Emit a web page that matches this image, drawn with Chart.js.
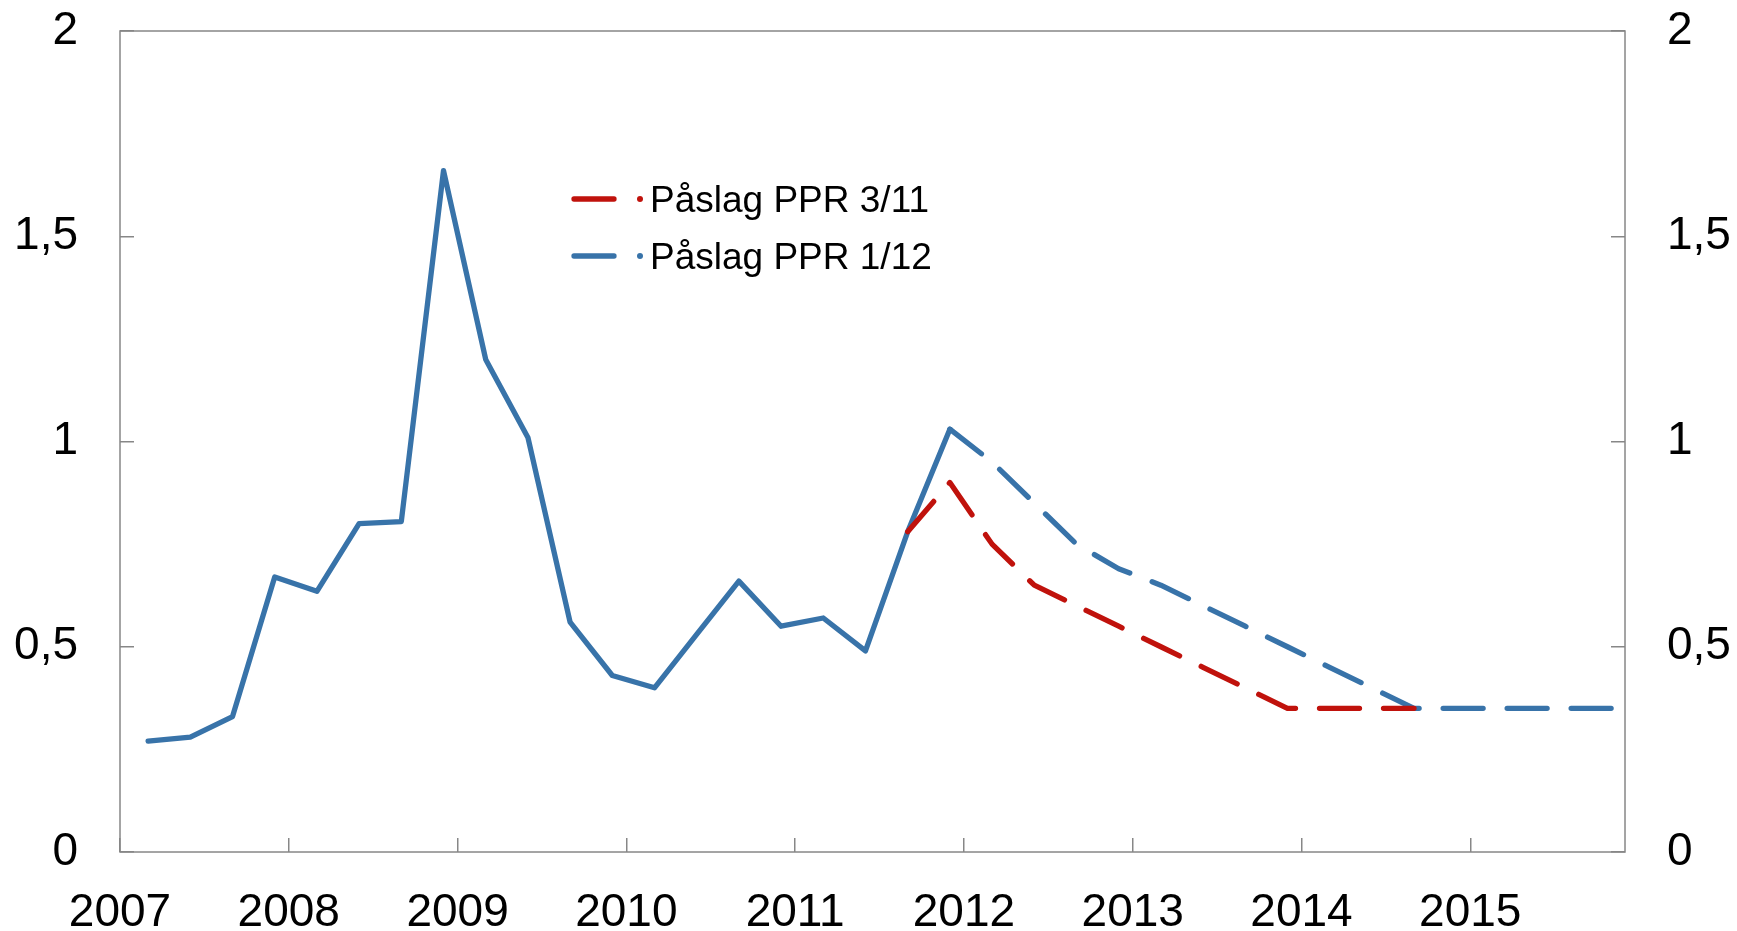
<!DOCTYPE html>
<html>
<head>
<meta charset="utf-8">
<script src="https://cdn.jsdelivr.net/npm/chart.js@4.4.1/dist/chart.umd.min.js"></script>
<style>
  html, body { margin: 0; padding: 0; background: #fff; }
  #wrap { width: 1737px; height: 931px; }
</style>
</head>
<body>
<div id="wrap"><canvas id="chart" width="1737" height="931"></canvas></div>
<script>
// kvartaler, plottet ved siste måned i kvartalet
const quarters = [
  '2007K1', '2007K2', '2007K3', '2007K4',
  '2008K1', '2008K2', '2008K3', '2008K4',
  '2009K1', '2009K2', '2009K3', '2009K4',
  '2010K1', '2010K2', '2010K3', '2010K4',
  '2011K1', '2011K2', '2011K3', '2011K4',
  '2012K1', '2012K2', '2012K3', '2012K4',
  '2013K1', '2013K2', '2013K3', '2013K4',
  '2014K1', '2014K2', '2014K3', '2014K4',
  '2015K1', '2015K2', '2015K3', '2015K4'
];

// Påslag PPR 1/12 (historikk + anslag fra 2011K4)
const ppr112 = [
  0.27, 0.28, 0.33, 0.67,
  0.635, 0.80, 0.805, 1.66,
  1.20, 1.01, 0.56, 0.43,
  0.40, 0.53, 0.66, 0.55,
  0.57, 0.49, 0.78, 1.03,
  0.95, 0.85, 0.75, 0.69,
  0.65, 0.60, 0.55, 0.50,
  0.45, 0.40, 0.35, 0.35,
  0.35, 0.35, 0.35, 0.35
];
const ppr112ForecastFrom = '2011K4';

// Påslag PPR 3/11 (anslag)
const ppr311Quarters = [
  '2011K3', '2011K4',
  '2012K1', '2012K2', '2012K3', '2012K4',
  '2013K1', '2013K2', '2013K3', '2013K4',
  '2014K1', '2014K2', '2014K3'
];
const ppr311 = [
  0.78, 0.90,
  0.75, 0.65, 0.60, 0.55,
  0.50, 0.45, 0.40, 0.35,
  0.35, 0.35, 0.35
];

const yTicks = [0, 0.5, 1, 1.5, 2];
const seriesNames = ['Påslag PPR 3/11', 'Påslag PPR 1/12'];

const RED = '#C0120C';
const BLUE = '#3873A9';
const AXIS = '#878787';
const DASH = [40, 24];
const LW = 5.3;

function toX(q) {
  const year = Number(q.slice(0, 4));
  const k = Number(q.slice(5));
  return year + (3 * k - 1) / 12;
}

const forecastIdx = quarters.indexOf(ppr112ForecastFrom);

const tickFont = { family: '"Liberation Sans", Arial, sans-serif', size: 46 };

// y-aksene skal ikke reservere plass over/under plottet
function fixY(width) {
  return s => {
    s.width = width;
    s.paddingTop = 0;
    s.paddingBottom = 0;
  };
}

const frameAndLegend = {
  id: 'frameAndLegend',
  afterDraw(chart) {
    const ctx = chart.ctx;
    const a = chart.chartArea;
    ctx.save();
    ctx.strokeStyle = AXIS;
    ctx.lineWidth = 1.5;
    ctx.strokeRect(a.left, a.top, a.right - a.left, a.bottom - a.top);

    // legend inne i plottet
    const colors = [RED, BLUE];
    const lx = a.left + 452;
    const rows = [a.top + 181, a.top + 238];
    ctx.font = '37px "Liberation Sans", Arial, sans-serif';
    ctx.textBaseline = 'alphabetic';
    ctx.textAlign = 'left';
    seriesNames.forEach((name, i) => {
      const y = rows[i] - 13;
      ctx.strokeStyle = colors[i];
      ctx.fillStyle = colors[i];
      ctx.lineWidth = LW;
      ctx.lineCap = 'round';
      ctx.beginPath();
      ctx.moveTo(lx + 2, y);
      ctx.lineTo(lx + 42, y);
      ctx.stroke();
      ctx.beginPath();
      ctx.arc(lx + 68, y, 3, 0, Math.PI * 2);
      ctx.fill();
      ctx.fillStyle = '#000';
      ctx.fillText(name, lx + 78, rows[i]);
    });
    ctx.restore();
  }
};

new Chart(document.getElementById('chart'), {
  type: 'line',
  data: {
    datasets: [
      {
        label: seriesNames[0],
        data: ppr311Quarters.map((q, i) => ({ x: toX(q), y: ppr311[i] })),
        borderColor: RED,
        borderWidth: LW,
        borderDash: DASH,
        borderCapStyle: 'round',
        borderJoinStyle: 'round',
        pointRadius: 0,
        tension: 0,
        yAxisID: 'y'
      },
      {
        label: seriesNames[1],
        data: quarters.map((q, i) => ({ x: toX(q), y: ppr112[i] })),
        borderColor: BLUE,
        borderWidth: LW,
        borderCapStyle: 'round',
        borderJoinStyle: 'round',
        pointRadius: 0,
        tension: 0,
        yAxisID: 'y',
        segment: {
          borderDash: c => (c.p0DataIndex >= forecastIdx ? DASH : undefined)
        }
      }
    ]
  },
  options: {
    responsive: false,
    animation: false,
    layout: { padding: { top: 31, left: 0, right: 0, bottom: 0 } },
    plugins: {
      legend: { display: false },
      tooltip: { enabled: false }
    },
    scales: {
      x: {
        type: 'linear',
        position: 'bottom',
        min: 2007,
        max: 2015 + 11 / 12,
        afterFit: s => { s.height = 79; s.paddingLeft = 0; s.paddingRight = 0; },
        border: { display: false },
        grid: { drawOnChartArea: false, drawTicks: true, tickLength: -14, color: AXIS, lineWidth: 1.5 },
        ticks: {
          stepSize: 1,
          includeBounds: false,
          autoSkip: false,
          maxRotation: 0,
          padding: 48,
          color: '#000',
          font: tickFont,
          callback: v => String(v)
        }
      },
      y: {
        position: 'left',
        min: 0,
        max: 2,
        afterFit: fixY(120),
        afterBuildTicks: s => { s.ticks = yTicks.map(v => ({ value: v })); },
        border: { display: false },
        grid: { drawOnChartArea: false, drawTicks: true, tickLength: -14, color: AXIS, lineWidth: 1.5 },
        ticks: {
          padding: 56,
          color: '#000',
          font: tickFont,
          callback: v => String(v).replace('.', ',')
        }
      },
      y2: {
        position: 'right',
        min: 0,
        max: 2,
        afterFit: fixY(112),
        afterBuildTicks: s => { s.ticks = yTicks.map(v => ({ value: v })); },
        border: { display: false },
        grid: { drawOnChartArea: false, drawTicks: true, tickLength: -14, color: AXIS, lineWidth: 1.5 },
        ticks: {
          padding: 56,
          color: '#000',
          font: tickFont,
          callback: v => String(v).replace('.', ',')
        }
      }
    }
  },
  plugins: [frameAndLegend]
});
</script>
</body>
</html>
